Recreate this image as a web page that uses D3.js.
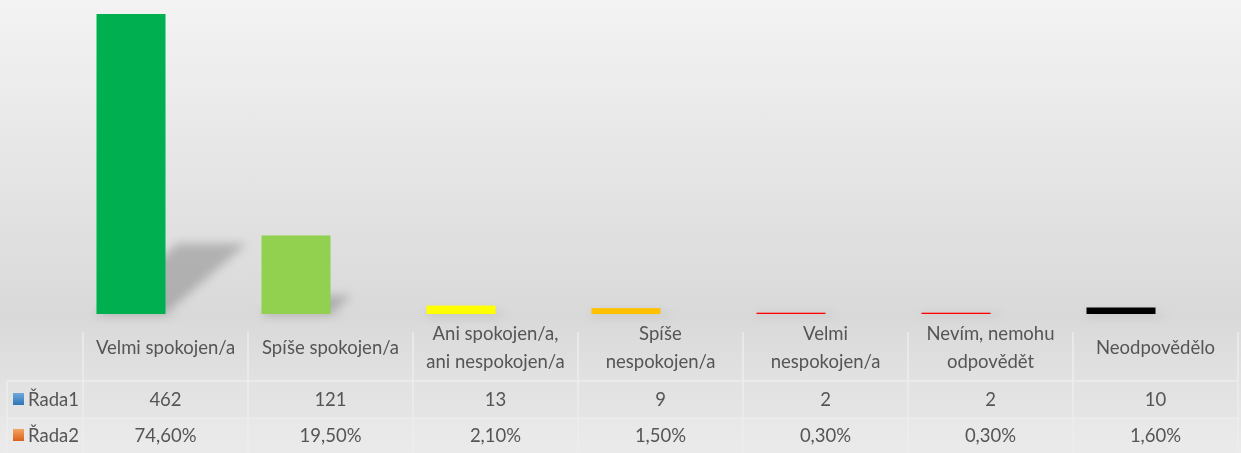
<!DOCTYPE html>
<html>
<head>
<meta charset="utf-8">
<script src="https://cdn.jsdelivr.net/npm/d3@7"></script>
<style>
  html, body { margin: 0; padding: 0; }
  svg { display: block; font-family: Lato, "Open Sans", sans-serif; }
</style>
</head>
<body>
<div id="chart"></div>
<script>
const W = 1241, H = 453;

const categories = ['Velmi spokojen/a', 'Spíše spokojen/a', 'Ani spokojen/a, ani nespokojen/a',
    'Spíše nespokojen/a', 'Velmi nespokojen/a', 'Nevím, nemohu odpovědět', 'Neodpovědělo'];
const seriesNames = ['Řada1', 'Řada2'];
const rada1 = [462, 121, 13, 9, 2, 2, 10];
const rada2 = [0.746, 0.195, 0.021, 0.015, 0.003, 0.003, 0.016];
const rada1Labels = ['462', '121', '13', '9', '2', '2', '10'];
const rada2Labels = ['74,60%', '19,50%', '2,10%', '1,50%', '0,30%', '0,30%', '1,60%'];
const pointColors = ['#00b050', '#92d050', '#ffff00', '#ffc000', '#ff0000', '#ff0000', '#000000'];

const base = 314;
const tableLeft = 7, colLeft = 83, colRight = 1238;
const rowTops = [314, 381, 418, 453];

const svg = d3.select('#chart').append('svg')
    .attr('width', W)
    .attr('height', H);

const defs = svg.append('defs');
const bg = defs.append('linearGradient').attr('id', 'bg')
    .attr('x1', 0).attr('y1', 0).attr('x2', 0).attr('y2', 1);
bg.append('stop').attr('offset', '0%').attr('stop-color', '#f3f3f3');
bg.append('stop').attr('offset', '70%').attr('stop-color', '#d9d9d9');
bg.append('stop').attr('offset', '100%').attr('stop-color', '#ebebeb');

defs.append('filter').attr('id', 'blur')
    .attr('x', '-30%').attr('y', '-30%').attr('width', '160%').attr('height', '160%')
    .append('feGaussianBlur').attr('stdDeviation', 5);

const lg1 = defs.append('linearGradient').attr('id', 'lg1').attr('x2', 0).attr('y2', 1);
lg1.append('stop').attr('offset', '0%').attr('stop-color', '#6fa8dc');
lg1.append('stop').attr('offset', '100%').attr('stop-color', '#2e75b6');
const lg2 = defs.append('linearGradient').attr('id', 'lg2').attr('x2', 0).attr('y2', 1);
lg2.append('stop').attr('offset', '0%').attr('stop-color', '#f4a460');
lg2.append('stop').attr('offset', '100%').attr('stop-color', '#d9601a');

svg.append('rect').attr('width', W).attr('height', H).attr('fill', 'url(#bg)');

const x = d3.scaleBand()
    .domain(categories)
    .range([colLeft, colRight]);

const xSub = d3.scaleBand()
    .domain(seriesNames)
    .range([0, x.bandwidth()])
    .paddingOuter(0.1957);

const y = d3.scaleLinear()
    .domain([0, 462])
    .range([base, 14]);

// table row fills
svg.append('rect').attr('x', tableLeft).attr('y', rowTops[1]).attr('width', colRight - tableLeft)
    .attr('height', rowTops[2] - rowTops[1]).attr('fill', '#e2e2e2').attr('opacity', 0.6);
svg.append('rect').attr('x', tableLeft).attr('y', rowTops[2]).attr('width', colRight - tableLeft)
    .attr('height', rowTops[3] - rowTops[2]).attr('fill', '#e9e9e9').attr('opacity', 0.6);

// bar shadows
const shadows = svg.append('g').attr('filter', 'url(#blur)');
categories.forEach((c, i) => {
    const x0 = x(c) + xSub('Řada1');
    const w = xSub.bandwidth();
    const h = base - y(rada1[i]);
    const sh = h * 0.235, dx = h * 0.27;
    shadows.append('path')
        .attr('d', `M${x0},${base}L${x0 + w},${base}L${x0 + w + dx},${base - sh}L${x0 + dx},${base - sh}Z`)
        .attr('fill', '#000')
        .attr('opacity', 0.2);
    shadows.append('rect')
        .attr('x', x0)
        .attr('y', base)
        .attr('width', w + 10)
        .attr('height', 1.5)
        .attr('fill', '#000')
        .attr('opacity', 0.15);
});

// bars
const bars = svg.append('g');
categories.forEach((c, i) => {
    bars.append('rect')
        .attr('x', x(c) + xSub('Řada1'))
        .attr('y', y(rada1[i]))
        .attr('width', xSub.bandwidth())
        .attr('height', base - y(rada1[i]))
        .attr('fill', pointColors[i]);
    bars.append('rect')
        .attr('x', x(c) + xSub('Řada2'))
        .attr('y', y(rada2[i]))
        .attr('width', xSub.bandwidth())
        .attr('height', base - y(rada2[i]))
        .attr('fill', 'none');
});

// table grid
const grid = svg.append('g').attr('stroke', '#ededed').attr('stroke-width', 1.5);
grid.selectAll('line.h').data([rowTops[1], rowTops[2]]).join('line')
    .attr('x1', tableLeft).attr('x2', colRight)
    .attr('y1', d => d).attr('y2', d => d);
grid.selectAll('line.v').data(categories.map(c => x(c)).concat([colRight])).join('line')
    .attr('x1', d => d).attr('x2', d => d)
    .attr('y1', 332).attr('y2', H);
grid.append('line')
    .attr('x1', tableLeft).attr('x2', tableLeft)
    .attr('y1', rowTops[1]).attr('y2', H);

const textColor = '#555555';
const fontSize = 18.5;

// category labels (wrapped)
const header = svg.append('g')
    .attr('fill', textColor)
    .attr('font-size', fontSize)
    .attr('text-anchor', 'middle');

categories.forEach(c => {
    const t = header.append('text')
        .attr('x', x(c) + x.bandwidth() / 2);
    const words = c.split(' ');
    const lines = [];
    let cur = [];
    words.forEach(wd => {
        cur.push(wd);
        t.text(cur.join(' '));
        if (t.node().getComputedTextLength() > 145 && cur.length > 1) {
            cur.pop();
            lines.push(cur.join(' '));
            cur = [wd];
        }
    });
    lines.push(cur.join(' '));
    t.text(null);
    const lh = 28;
    const mid = (rowTops[0] + rowTops[1]) / 2;
    lines.forEach((ln, j) => {
        t.append('tspan')
            .attr('x', x(c) + x.bandwidth() / 2)
            .attr('y', mid + (j - (lines.length - 1) / 2) * lh)
            .attr('dy', '0.35em')
            .text(ln);
    });
});

// data rows
const rows = [rada1Labels, rada2Labels];
const swatches = ['url(#lg1)', 'url(#lg2)'];
rows.forEach((labels, r) => {
    const cy = (rowTops[r + 1] + rowTops[r + 2]) / 2;
    svg.append('g')
        .attr('fill', textColor)
        .attr('font-size', fontSize)
        .attr('text-anchor', 'middle')
        .selectAll('text').data(labels).join('text')
        .attr('x', (d, i) => x(categories[i]) + x.bandwidth() / 2)
        .attr('y', cy)
        .attr('dy', '0.35em')
        .text(d => d);
    svg.append('rect')
        .attr('x', 13).attr('y', cy - 6.5)
        .attr('width', 11).attr('height', 12)
        .attr('fill', swatches[r]);
    svg.append('text')
        .attr('x', 28).attr('y', cy)
        .attr('dy', '0.35em')
        .attr('fill', textColor)
        .attr('font-size', fontSize)
        .text(seriesNames[r]);
});
</script>
</body>
</html>
